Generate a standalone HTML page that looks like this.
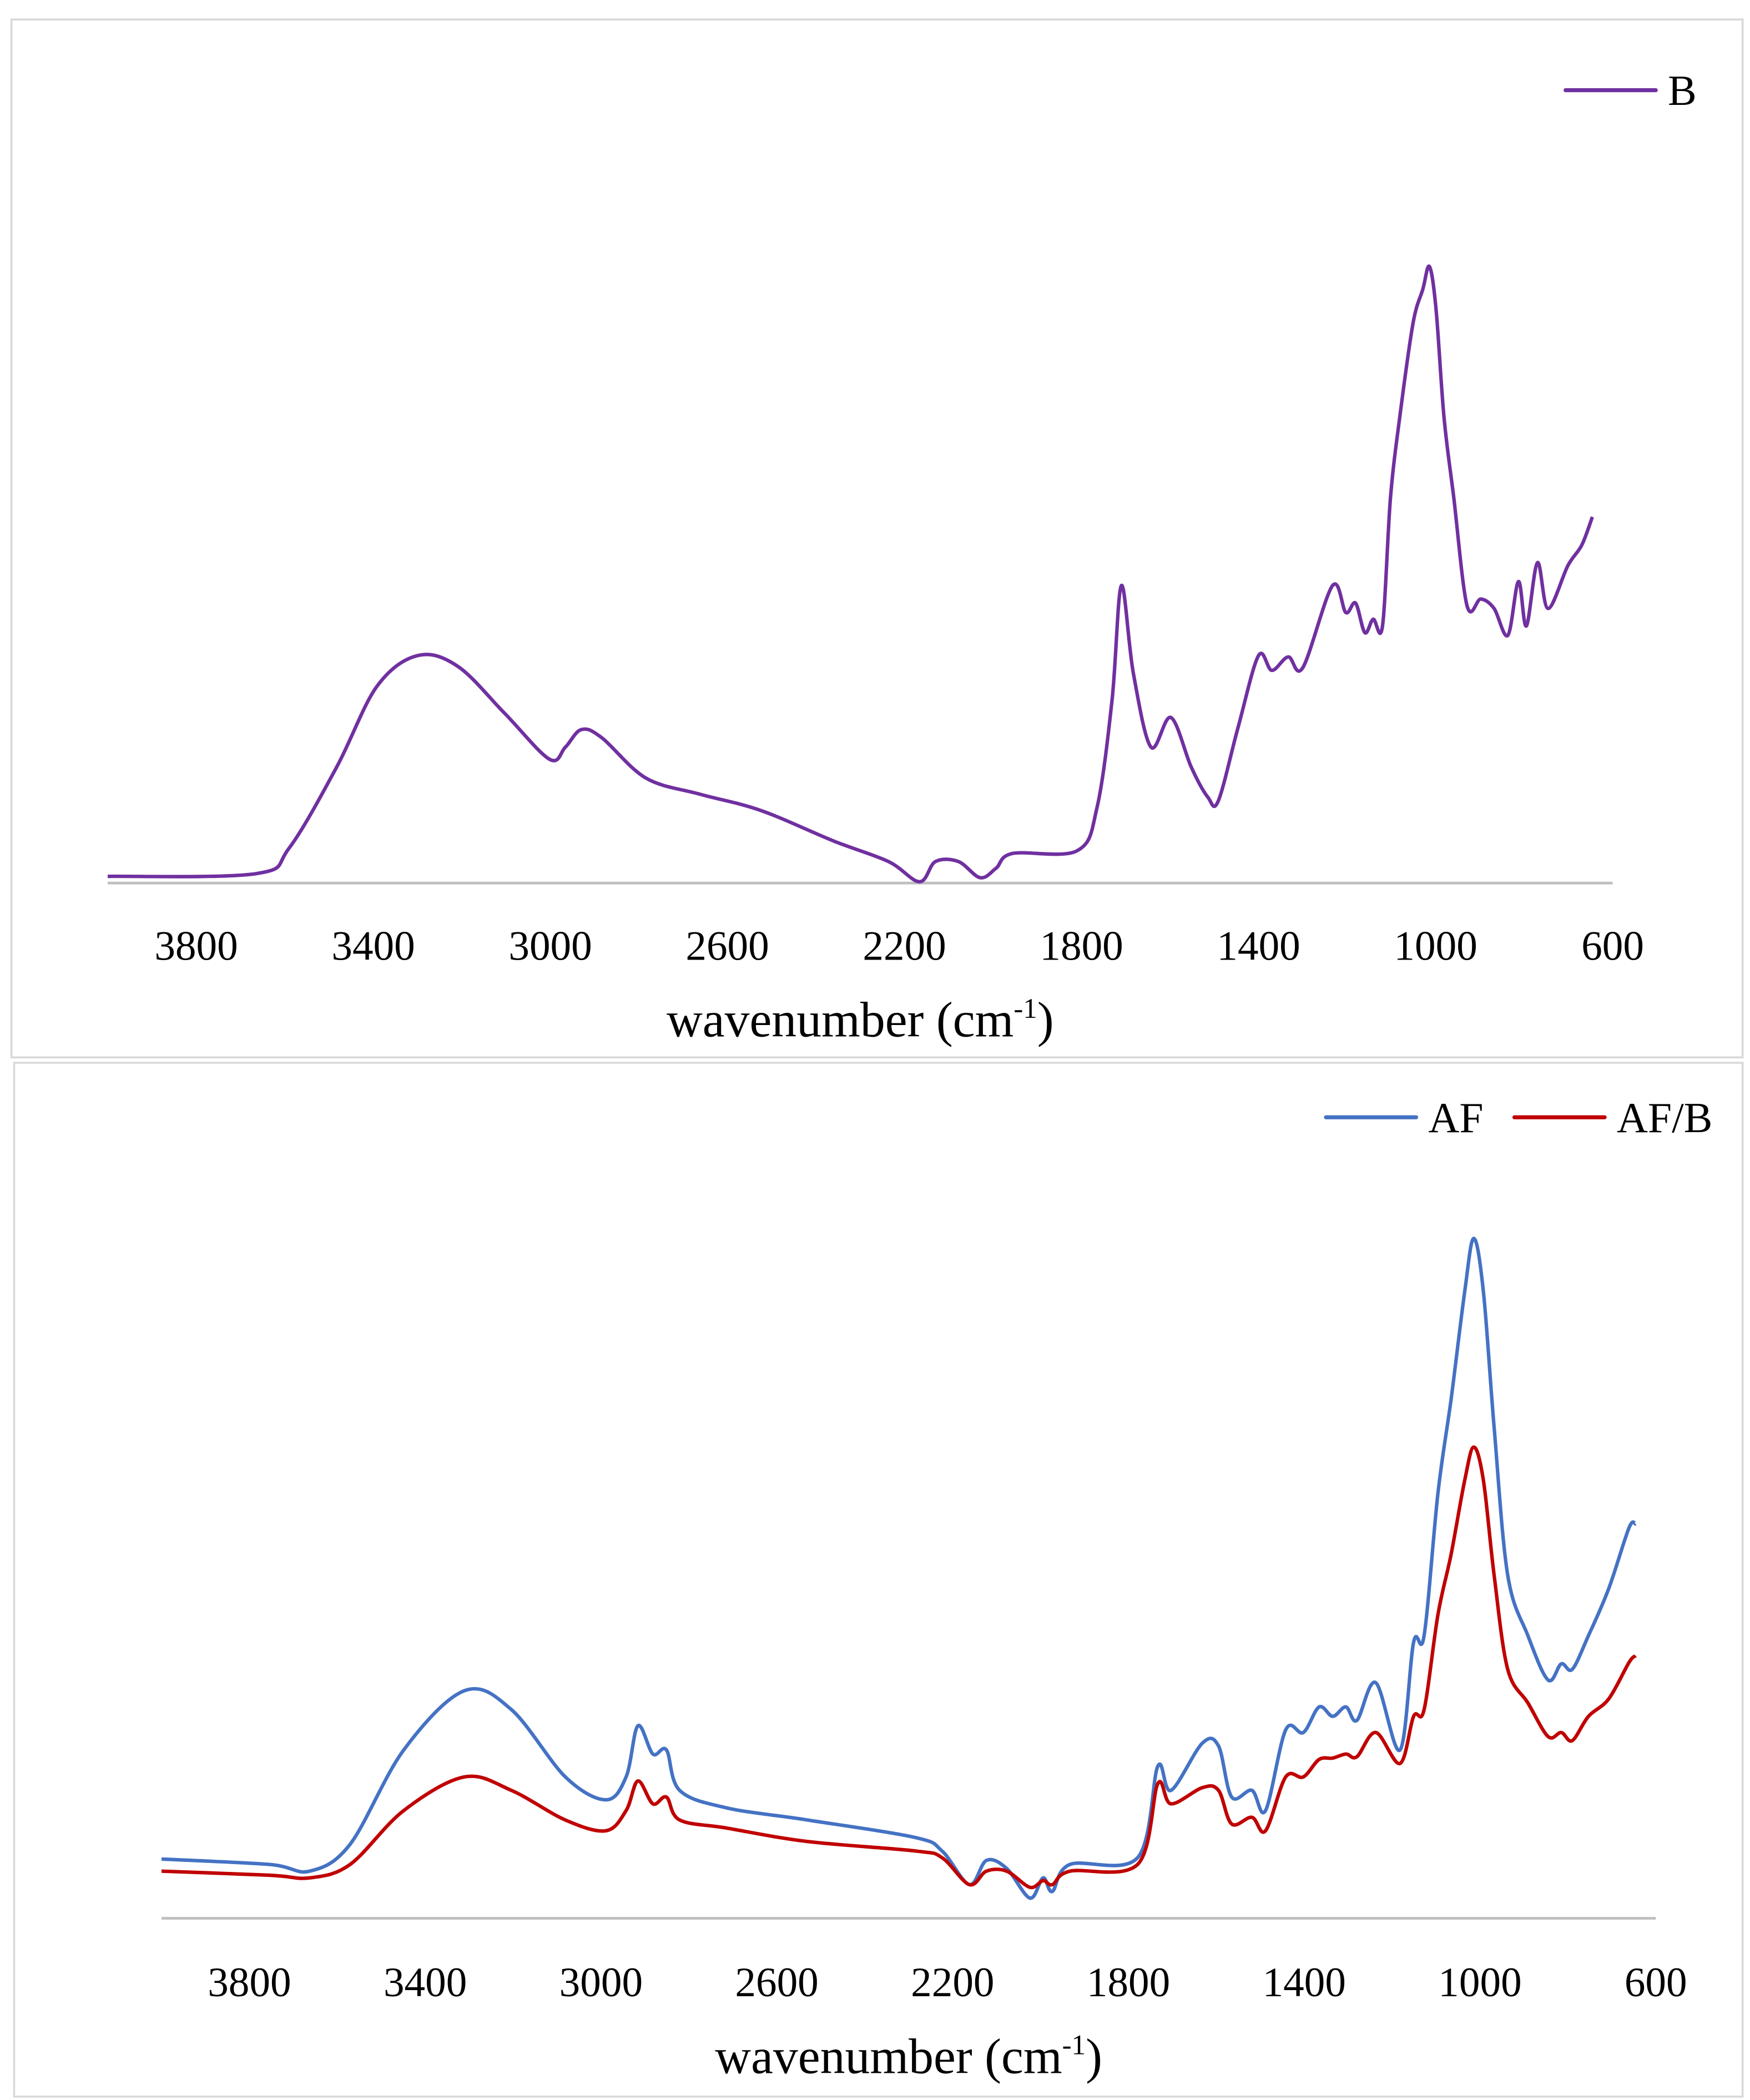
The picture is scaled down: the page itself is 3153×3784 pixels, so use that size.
<!DOCTYPE html>
<html><head><meta charset="utf-8"><style>
html,body{margin:0;padding:0;background:#fff;}
svg{display:block;}
text{font-family:"Liberation Serif",serif;fill:#000;}
</style></head><body>
<svg id="fig" width="3153" height="3784" viewBox="0 0 1300 1560" preserveAspectRatio="none" xmlns="http://www.w3.org/2000/svg">
<rect x="8.5" y="14.5" width="1286" height="771" fill="#fff" stroke="#d9d9d9" stroke-width="1.5"/>
<rect x="10.5" y="789.5" width="1284" height="768" fill="#fff" stroke="#d9d9d9" stroke-width="1.5"/>
<g id="top"></g>
<g id="bot"></g>
</svg>
<script>
const ticks = [3800, 3400, 3000, 2600, 2200, 1800, 1400, 1000, 600];
const wnB = [4000,3665,3590,3483,3392,3300,3209,3103,3002,2966,2930,2884,2784,2662,2525,2358,2236,2166,2130,2078,2029,1993,1956,1810,1765,1731,1710,1683,1643,1598,1552,1515,1491,1446,1400,1370,1333,1300,1233,1203,1181,1160,1141,1120,1102,1081,1051,1029,1014,999,981,959,929,898,868,837,813,795,770,746,701,670,646];
const valB = [5,7,26,86,146,169,161,126,92,101,114,108,78,66,54,31,16,1,16,16,4,11,22,24,56,136,221,156,101,123,86,64,61,116,169,158,168,160,221,201,208,186,196,191,286,346,416,441,458,426,346,286,206,211,204,184,224,191,238,204,236,251,272];
const wnAF = [4000,3755,3663,3571,3449,3311,3204,3081,2989,2943,2916,2882,2851,2821,2714,2530,2285,2224,2162,2123,2077,2024,1994,1973,1933,1779,1733,1703,1632,1595,1565,1519,1488,1442,1402,1366,1335,1305,1280,1237,1182,1151,1127,1096,1066,1035,1014,992,968,937,891,845,815,790,753,707,661,646];
const valAF = [44,40,35,55,125,169,155,105,88,105,143,122,125,95,82,73,60,50,25,43,37,15,30,20,40,45,113,95,130,128,90,95,80,140,138,157,150,157,147,175,125,205,210,315,385,465,505,465,365,255,210,177,189,185,210,245,290,293];
const valAFB = [35,32,30,40,80,105,95,73,65,80,102,85,90,73,67,57,50,45,25,35,35,23,28,25,35,40,100,85,97,95,70,75,65,105,105,118,119,122,120,138,115,150,155,225,270,325,350,325,255,185,160,135,138,132,150,163,190,195];

const NS = "http://www.w3.org/2000/svg";
function mk(parent, tag, attrs, txt){
  const e = document.createElementNS(NS, tag);
  for (const k in attrs) e.setAttribute(k, attrs[k]);
  if (txt !== undefined) e.textContent = txt;
  parent.appendChild(e);
  return e;
}
function smooth(pts){
  let d = 'M' + pts[0][0].toFixed(1) + ' ' + pts[0][1].toFixed(1);
  for (let i = 0; i < pts.length - 1; i++){
    const p0 = pts[Math.max(0,i-1)], p1 = pts[i], p2 = pts[i+1], p3 = pts[Math.min(pts.length-1,i+2)];
    const c1x = p1[0] + (p2[0]-p0[0])/6, c1y = p1[1] + (p2[1]-p0[1])/6;
    const c2x = p2[0] - (p3[0]-p1[0])/6, c2y = p2[1] - (p3[1]-p1[1])/6;
    d += ' C' + c1x.toFixed(1)+' '+c1y.toFixed(1)+' '+c2x.toFixed(1)+' '+c2y.toFixed(1)+' '+p2[0].toFixed(1)+' '+p2[1].toFixed(1);
  }
  return d;
}
function chart(g, cfg){
  const xs = w => cfg.x0 + (4000 - w) / 3400 * (cfg.x1 - cfg.x0);
  const ys = v => cfg.base - v;
  const ax = mk(g, 'line', {x1:cfg.x0, x2:cfg.x1, y1:cfg.base, y2:cfg.base, stroke:'#bfbfbf', 'stroke-width':2});
  
  
  ticks.forEach(t => {
    const tl = mk(g, 'text', {x:xs(t), y:cfg.tickY, 'font-size':31, 'text-anchor':'middle'}, String(t));
    
    
  });
  const title = mk(g, 'text', {x:(cfg.x0+cfg.x1)/2, y:cfg.titleY, 'font-size':37, 'text-anchor':'middle'});
  
  
  title.appendChild(document.createTextNode('wavenumber (cm'));
  mk(title, 'tspan', {'font-size':21, dy:-14}, '-1');
  mk(title, 'tspan', {dy:14}, ')');
  cfg.series.forEach(s => {
    const pts = s.wn.map((w,i) => [xs(w), ys(s.val[i])]);
    const p = mk(g, 'path', {d:smooth(pts), fill:'none', stroke:s.color, 'stroke-width':2.6, 'stroke-linejoin':'round'});
    
    
    const lg = mk(g, 'line', {x1:s.lx, x2:s.lx+67, y1:cfg.legY, y2:cfg.legY, stroke:s.color, 'stroke-width':3, 'stroke-linecap':'round'});
    
    
    const lt = mk(g, 'text', {x:s.lx+76, y:cfg.legY+11, 'font-size':32}, s.label);
    
    
  });
}
chart(document.getElementById('top'), {x0:80, x1:1198, base:656, tickY:713, titleY:770, legY:67,
  series:[{name:'b', label:'B', wn:wnB, val:valB, color:'#7030a0', lx:1163}]});
chart(document.getElementById('bot'), {x0:120, x1:1230, base:1425, tickY:1483, titleY:1540, legY:830,
  series:[{name:'af', label:'AF', wn:wnAF, val:valAF, color:'#4472c4', lx:985},
          {name:'af-b', label:'AF/B', wn:wnAF, val:valAFB, color:'#c00000', lx:1125}]});
</script>
</body></html>
